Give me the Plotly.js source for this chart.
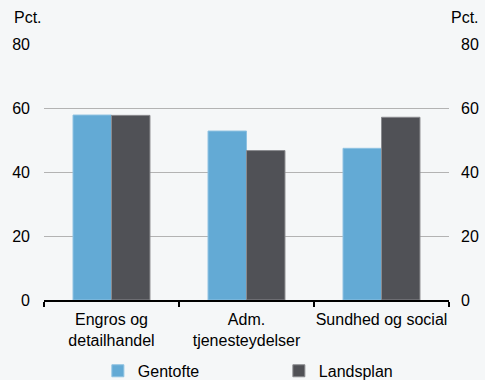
<!DOCTYPE html>
<html><head><meta charset="utf-8">
<script src="https://cdn.plot.ly/plotly-3.0.1.min.js"></script>
<style>html,body{margin:0;padding:0;background:#f5f7f8;}</style>
</head><body><div id="c" style="width:485px;height:380px;"></div>
<script>
const categories = ["Engros og<br>detailhandel", "Adm.<br>tjenesteydelser", "Sundhed og social"];
const gentofte = [57.8, 52.8, 47.4];
const landsplan = [57.7, 46.7, 57.1];
const yTicks = [0, 20, 40, 60, 80];

const font = {family: "Liberation Sans, Arial, sans-serif", size: 16, color: "#000"};
const traces = [
  {type: "bar", name: "Gentofte", x: categories, y: gentofte,
   marker: {color: "#63aad5", line: {color: "#8ec2e2", width: 1}}},
  {type: "bar", name: "Landsplan", x: categories, y: landsplan,
   marker: {color: "#505156", line: {color: "#8a8b8f", width: 1}}},
  {type: "bar", x: categories, y: landsplan, yaxis: "y2", showlegend: false,
   hoverinfo: "skip", opacity: 0, marker: {color: "rgba(0,0,0,0)"}}
];
const layout = {
  width: 485, height: 380,
  paper_bgcolor: "#f5f7f8", plot_bgcolor: "#f5f7f8",
  font: font,
  margin: {l: 44, r: 36, t: 44, b: 80},
  barmode: "group", bargap: 0.43, bargroupgap: 0,
  xaxis: {type: "category", tickson: "boundaries", ticks: "outside", ticklen: 5, tickangle: 0,
          tickcolor: "#000", tickwidth: 1.5, showline: true, linecolor: "#000", linewidth: 1.5,
          showgrid: false, tickfont: font, ticklabelstandoff: 4, automargin: false},
  yaxis: {range: [0, 80], tickvals: yTicks, showgrid: true, gridcolor: "#b3b3b3", gridwidth: 1,
          zeroline: false, showline: false, ticks: "", ticklabelstandoff: 13, tickfont: font, automargin: false},
  yaxis2: {range: [0, 80], tickvals: yTicks, overlaying: "y", side: "right", showgrid: false,
           zeroline: false, showline: false, ticks: "", ticklabelstandoff: 11, tickfont: font, automargin: false},
  showlegend: true,
  legend: {orientation: "h", xref: "paper", x: 0.133, xanchor: "left",
           yref: "container", y: 0.024, yanchor: "middle",
           entrywidth: 136, font: font, bgcolor: "rgba(0,0,0,0)", traceorder: "normal"},
  annotations: [
    {text: "Pct.", xref: "paper", yref: "paper", x: -0.079, y: 1.105, xanchor: "left", yanchor: "middle", showarrow: false, font: font},
    {text: "Pct.", xref: "paper", yref: "paper", x: 1.079, y: 1.105, xanchor: "right", yanchor: "middle", showarrow: false, font: font}
  ]
};
Plotly.newPlot("c", traces, layout, {displayModeBar: false, staticPlot: true});
</script></body></html>
